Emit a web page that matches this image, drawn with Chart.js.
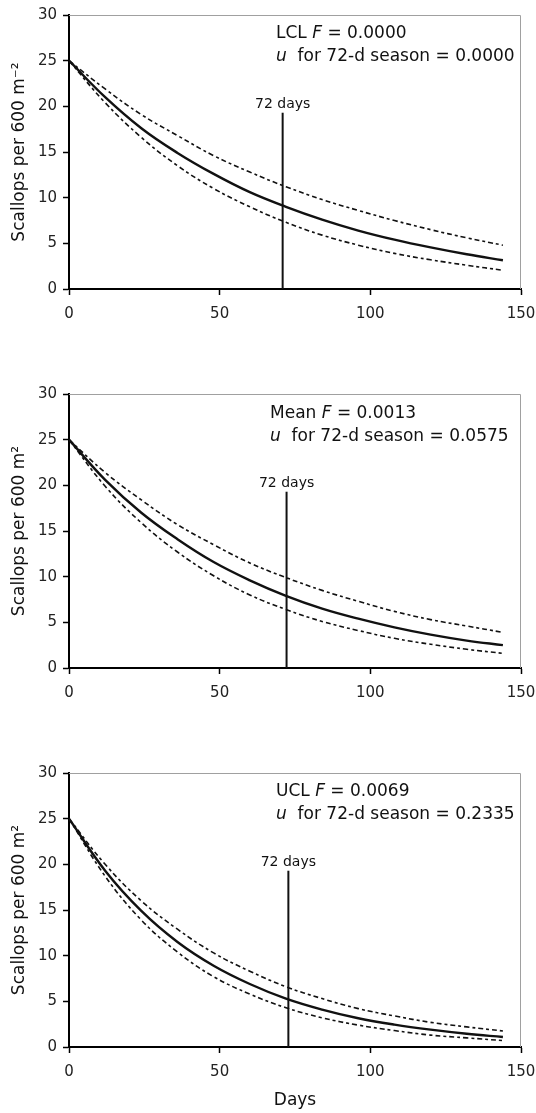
<!DOCTYPE html>
<html>
<head>
<meta charset="utf-8">
<script src="https://cdn.jsdelivr.net/npm/chart.js@4.4.1/dist/chart.umd.min.js"></script>
<style>
  body { margin: 0; background: #fff; }
  .panel { position: absolute; left: 0; width: 536px; }
</style>
</head>
<body>
<div class="panel" style="top:0;height:330px"><canvas id="c1"></canvas></div>
<div class="panel" style="top:379px;height:330px"><canvas id="c2"></canvas></div>
<div class="panel" style="top:758px;height:355px"><canvas id="c3"></canvas></div>
<script>
// days sampled along the curves
var days = [0, 12, 24, 36, 48, 60, 72, 84, 96, 108, 120, 132, 144];

// LCL panel
var lclMid = [25, 21.0, 17.6, 14.9, 12.6, 10.6, 9.0, 7.6, 6.4, 5.4, 4.55, 3.8, 3.15];
var lclUp  = [25, 21.9, 19.1, 16.8, 14.6, 12.8, 11.2, 9.8, 8.6, 7.5, 6.5, 5.6, 4.8];
var lclLow = [25, 20.4, 16.6, 13.5, 11.0, 9.0, 7.3, 5.9, 4.8, 3.9, 3.2, 2.6, 2.05];

// Mean panel
var meanMid = [25, 20.6, 17.0, 14.1, 11.6, 9.6, 7.9, 6.5, 5.4, 4.45, 3.65, 3.0, 2.5];
var meanUp  = [25, 21.4, 18.4, 15.7, 13.5, 11.5, 9.9, 8.5, 7.3, 6.2, 5.3, 4.6, 3.9];
var meanLow = [25, 19.9, 15.9, 12.7, 10.1, 8.0, 6.4, 5.1, 4.1, 3.25, 2.6, 2.05, 1.6];

// UCL panel
var uclMid = [25, 19.3, 14.9, 11.5, 8.9, 6.9, 5.3, 4.1, 3.15, 2.45, 1.9, 1.45, 1.1];
var uclUp  = [25, 20.0, 16.0, 12.9, 10.3, 8.3, 6.6, 5.3, 4.2, 3.4, 2.7, 2.2, 1.75];
var uclLow = [25, 18.7, 13.9, 10.4, 7.7, 5.8, 4.3, 3.2, 2.4, 1.8, 1.3, 1.0, 0.7];

// "72 days" marker: x position in each panel and height of the line
var markDay = [70.9, 72.2, 72.8];
var markTop = 19.3;

var yTitles = ['Scallops per 600 m\u207B\u00B2', 'Scallops per 600 m\u00B2', 'Scallops per 600 m\u00B2'];
var notes = [
  [[['LCL ', false], ['F', true], [' = 0.0000', false]], [['u', true], ['  for 72-d season = 0.0000', false]]],
  [[['Mean ', false], ['F', true], [' = 0.0013', false]], [['u', true], ['  for 72-d season = 0.0575', false]]],
  [[['UCL ', false], ['F', true], [' = 0.0069', false]], [['u', true], ['  for 72-d season = 0.2335', false]]]
];
var noteX = [276, 270, 276];

var FONT = '"DejaVu Sans", "Liberation Sans", Arial, sans-serif';

function pts(xs, ys) {
  return xs.map(function (d, i) { return { x: d, y: ys[i] }; });
}

var extras = {
  id: 'extras',
  beforeDatasetsDraw: function (chart) {
    var ctx = chart.ctx, a = chart.chartArea;
    ctx.save();
    ctx.strokeStyle = '#a0a0a0';
    ctx.lineWidth = 1;
    ctx.beginPath();
    ctx.moveTo(a.left, a.top + 0.5);
    ctx.lineTo(a.right - 0.5, a.top + 0.5);
    ctx.lineTo(a.right - 0.5, a.bottom);
    ctx.stroke();
    ctx.restore();
  },
  afterDraw: function (chart) {
    var ctx = chart.ctx, a = chart.chartArea;
    var o = chart.options.plugins.extras;
    var xs = chart.scales.x, ys = chart.scales.y;
    ctx.save();
    ctx.fillStyle = '#111';
    ctx.font = '14px ' + FONT;
    ctx.textAlign = 'center';
    ctx.textBaseline = 'alphabetic';
    ctx.fillText('72 days', xs.getPixelForValue(o.mark), ys.getPixelForValue(markTop) - 5);

    ctx.textAlign = 'left';
    o.lines.forEach(function (line, li) {
      var x = o.x;
      var y = a.top + o.base[li];
      line.forEach(function (part) {
        ctx.font = (part[1] ? 'italic ' : '') + '17px ' + FONT;
        ctx.fillText(part[0], x, y);
        x += ctx.measureText(part[0]).width;
      });
    });
    ctx.restore();
  }
};

function makeChart(id, idx, mid, up, low, last) {
  var dash = { borderColor: '#111', borderWidth: 1.6, borderDash: [5, 3, 3, 3], pointRadius: 0, tension: 0.4 };
  new Chart(document.getElementById(id), {
    type: 'line',
    data: {
      datasets: [
        Object.assign({ data: pts(days, up) }, dash),
        Object.assign({ data: pts(days, low) }, dash),
        { data: pts(days, mid), borderColor: '#111', borderWidth: 2.4, pointRadius: 0, tension: 0.4 },
        { data: [{ x: markDay[idx], y: 0 }, { x: markDay[idx], y: markTop }], borderColor: '#111', borderWidth: 2, pointRadius: 0 }
      ]
    },
    options: {
      responsive: true,
      maintainAspectRatio: false,
      animation: false,
      layout: { padding: { top: 12, right: 15, left: 0, bottom: 0 } },
      plugins: {
        legend: { display: false },
        tooltip: { enabled: false },
        extras: { mark: markDay[idx], lines: notes[idx], x: noteX[idx], base: idx === 1 ? [24, 47] : [23, 45.5] }
      },
      scales: {
        x: {
          type: 'linear',
          min: 0, max: 150,
          afterFit: function (s) {
            s.height = last ? 66 : 41;
            s.paddingLeft = 0;
            s.paddingRight = 15;
          },
          ticks: { stepSize: 50, color: '#222', padding: 10, font: { family: FONT, size: 15 } },
          grid: { drawOnChartArea: false, drawTicks: true, tickLength: 6, tickColor: '#000', tickWidth: 1.5 },
          border: { display: true, color: '#000', width: 2 },
          title: { display: last, text: 'Days', color: '#111', font: { family: FONT, size: 17 }, padding: { top: 0, bottom: 2 } }
        },
        y: {
          min: 0, max: 30,
          afterFit: function (s) { s.width = 69; },
          ticks: { stepSize: 5, color: '#222', padding: 6, font: { family: FONT, size: 15 } },
          grid: { drawOnChartArea: false, drawTicks: true, tickLength: 6, tickColor: '#000', tickWidth: 1.5 },
          border: { display: true, color: '#000', width: 2 },
          title: { display: true, text: yTitles[idx], color: '#111', font: { family: FONT, size: 17 }, padding: { top: 9, bottom: 0 } }
        }
      }
    },
    plugins: [extras]
  });
}

makeChart('c1', 0, lclMid, lclUp, lclLow, false);
makeChart('c2', 1, meanMid, meanUp, meanLow, false);
makeChart('c3', 2, uclMid, uclUp, uclLow, true);
</script>
</body>
</html>
